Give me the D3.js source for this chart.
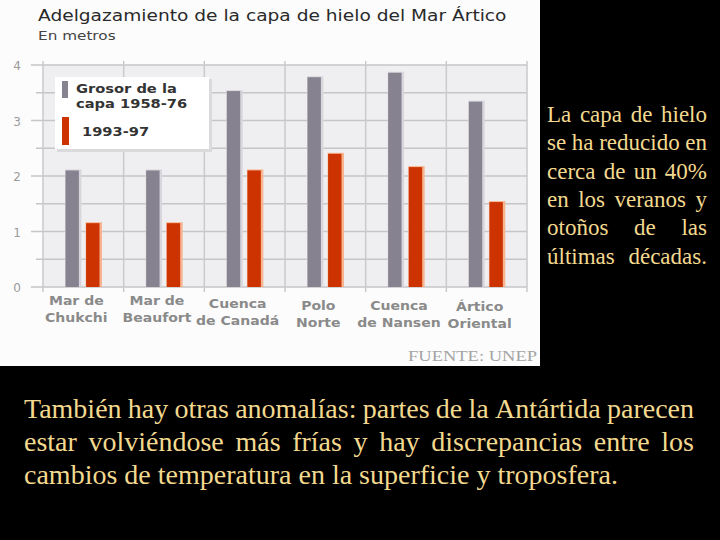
<!DOCTYPE html>
<html>
<head>
<meta charset="utf-8">
<script src="https://cdn.jsdelivr.net/npm/d3@7"></script>
<style>
  body { margin: 0; background: #000; }
  svg { display: block; }
</style>
</head>
<body>
<script>
// data (metres)
let categories = ["Mar de Chukchi", "Mar de Beaufort", "Cuenca de Canadá", "Polo Norte", "Cuenca de Nansen", "Ártico Oriental"]
let catLines = [["Mar de", "Chukchi"], ["Mar de", "Beaufort"], ["Cuenca", "de Canadá"], ["Polo", "Norte"], ["Cuenca", "de Nansen"], ["Ártico", "Oriental"]]
let series = ["1958-76", "1993-97"]
let grosorAntes = [2.1, 2.1, 3.53, 3.78, 3.86, 3.34]
let grosorDespues = [1.15, 1.15, 2.1, 2.4, 2.16, 1.53]
let yTicks = [0, 1, 2, 3, 4]
let legendLabels = [["Grosor de la", "capa 1958-76"], ["1993-97"]]

let sideText = ["La capa de hielo", "se ha reducido en", "cerca de un 40%", "en los veranos y", "otoños de las", "últimas décadas."]
let bottomText = ["También hay otras anomalías: partes de la Antártida parecen", "estar volviéndose más frías y hay discrepancias entre los", "cambios de temperatura en la superficie y troposfera."]

let w = 720
let h = 540
let stretch = 1.22   // the chart picture is wider than its fonts
let labelDrop = [0, 0, 3, 5, 5, 6]   // category labels sit a little lower toward the right
let colors = {"1958-76": "#86828f", "1993-97": "#cc3300"}
let glow = {"1958-76": "#d8d6dc", "1993-97": "#f7b48f"}
let gold = "#f3d98f"

let svg = d3.select("body").append("svg")
  .attr("width", w)
  .attr("height", h)

svg.append("rect").attr("width", w).attr("height", h).attr("fill", "#000")

// widen a chart text to match the stretched picture
let widen = (sel, k) => {
  sel.each(function(){
    let len = this.getComputedTextLength()
    d3.select(this).attr("textLength", len * (k || stretch)).attr("lengthAdjust", "spacingAndGlyphs")
  })
}

// chart panel (the picture)
svg.append("rect")
  .attr("x", 0).attr("y", 0)
  .attr("width", 540).attr("height", 366)
  .attr("fill", "#fcfcfc")

let xScale = d3.scaleBand().domain(categories).range([43, 527])
let subScale = d3.scaleBand().domain(series).range([22.5, 56.5]).paddingInner(0.35)
let yScale = d3.scaleLinear().domain([0, 4]).range([287, 65])

svg.append("rect")
  .attr("x", 43).attr("y", yScale(4))
  .attr("width", 484).attr("height", yScale(0) - yScale(4))
  .attr("fill", "#efeff1")

// horizontal grid every half metre
let gridVals = d3.range(0, 4.01, 0.5)
svg.append("g").selectAll("line")
  .data(gridVals)
  .enter()
  .append("line")
  .attr("x1", (d) => Number.isInteger(d) ? 31 : 36)
  .attr("x2", 527)
  .attr("y1", (d) => yScale(d))
  .attr("y2", (d) => yScale(d))
  .attr("stroke", "#c6c6c8")
  .attr("stroke-width", 1.5)

// vertical grid at category boundaries
let bounds = categories.map((c) => xScale(c)).concat([527])
svg.append("g").selectAll("line")
  .data(bounds)
  .enter()
  .append("line")
  .attr("x1", (d) => d).attr("x2", (d) => d)
  .attr("y1", yScale(4) - 4)
  .attr("y2", yScale(0) + 5)
  .attr("stroke", "#cacacc")
  .attr("stroke-width", 1.5)

// y axis labels
svg.append("g").selectAll("text")
  .data(yTicks)
  .enter()
  .append("text")
  .text((d) => d)
  .attr("x", 21)
  .attr("y", (d) => yScale(d) + 5)
  .attr("text-anchor", "end")
  .attr("font-family", "DejaVu Sans")
  .attr("font-size", 12)
  .attr("fill", "#9a9a9a")

// bars
let rows = []
categories.forEach((c, i) => {
  rows.push({cat: c, s: series[0], v: grosorAntes[i]})
  rows.push({cat: c, s: series[1], v: grosorDespues[i]})
})

let bars = svg.append("g")
bars.selectAll("rect.glow")
  .data(rows)
  .enter()
  .append("rect")
  .attr("class", "glow")
  .attr("x", (d) => xScale(d.cat) + subScale(d.s) - 0.5)
  .attr("y", (d) => yScale(d.v) - 1)
  .attr("width", subScale.bandwidth() + 3)
  .attr("height", (d) => yScale(0) - yScale(d.v) + 1)
  .attr("fill", (d) => glow[d.s])

bars.selectAll("rect.bar")
  .data(rows)
  .enter()
  .append("rect")
  .attr("class", "bar")
  .attr("x", (d) => xScale(d.cat) + subScale(d.s))
  .attr("y", (d) => yScale(d.v))
  .attr("width", subScale.bandwidth())
  .attr("height", (d) => yScale(0) - yScale(d.v))
  .attr("fill", (d) => colors[d.s])

// x labels, two lines each
let labelRows = []
categories.forEach((c, i) => catLines[i].forEach((t, j) => labelRows.push({cat: c, t: t, j: j, i: i})))
svg.append("g").selectAll("text")
  .data(labelRows)
  .enter()
  .append("text")
  .text((d) => d.t)
  .attr("x", (d) => xScale(d.cat) + xScale.bandwidth() / 2 - 7)
  .attr("y", (d) => 305 + d.j * 17 + labelDrop[d.i])
  .attr("text-anchor", "middle")
  .attr("font-family", "DejaVu Sans")
  .attr("font-weight", "bold")
  .attr("font-size", 11.5)
  .attr("fill", "#8a8a8a")
  .call(widen)

// title
svg.append("text")
  .text("Adelgazamiento de la capa de hielo del Mar Ártico")
  .attr("x", 38).attr("y", 21)
  .attr("font-family", "DejaVu Sans")
  .attr("font-size", 15)
  .attr("fill", "#2a2a2a")
  .call(widen, 1.24)

svg.append("text")
  .text("En metros")
  .attr("x", 38).attr("y", 40)
  .attr("font-family", "DejaVu Sans")
  .attr("font-size", 12.5)
  .attr("fill", "#444")
  .call(widen)

// legend
let lg = svg.append("g")
lg.append("rect")
  .attr("x", 57).attr("y", 79).attr("width", 155).attr("height", 73)
  .attr("fill", "#dadadc")
lg.append("rect")
  .attr("x", 55).attr("y", 77).attr("width", 154).attr("height", 72)
  .attr("fill", "#fff")

lg.append("rect").attr("x", 62).attr("y", 81).attr("width", 6).attr("height", 17).attr("fill", colors[series[0]])
lg.append("rect").attr("x", 62).attr("y", 117).attr("width", 7).attr("height", 28).attr("fill", colors[series[1]])

lg.selectAll("text.l1")
  .data(legendLabels[0])
  .enter()
  .append("text")
  .attr("class", "l1")
  .text((d) => d)
  .attr("x", 76)
  .attr("y", (d, i) => 93 + i * 15)
  .attr("font-family", "DejaVu Sans")
  .attr("font-weight", "bold")
  .attr("font-size", 12)
  .attr("fill", "#333")
  .call(widen)

lg.append("text")
  .text(legendLabels[1][0])
  .attr("x", 82).attr("y", 136)
  .attr("font-family", "DejaVu Sans")
  .attr("font-weight", "bold")
  .attr("font-size", 12)
  .attr("fill", "#333")
  .call(widen)

// source
svg.append("text")
  .text("FUENTE: UNEP")
  .attr("x", 408).attr("y", 361)
  .attr("font-family", "Liberation Serif")
  .attr("font-size", 15)
  .attr("fill", "#a4a4a4")
  .attr("textLength", 129)
  .attr("lengthAdjust", "spacingAndGlyphs")

// justified lines: spread the words across the width
let justify = (g, lines, x0, width, y0, step, size, lastNatural) => {
  lines.forEach((line, i) => {
    let words = line.split(" ")
    let t = g.selectAll("text.w" + i)
      .data(words)
      .enter()
      .append("text")
      .attr("class", "w" + i)
      .text((d) => d)
      .attr("y", y0 + i * step)
      .attr("font-family", "Liberation Serif")
      .attr("font-size", size)
      .attr("fill", gold)
    let lens = []
    t.each(function(){ lens.push(this.getComputedTextLength()) })
    let total = d3.sum(lens)
    let gap = size * 0.25
    if (!(lastNatural && i === lines.length - 1) && words.length > 1) {
      gap = (width - total) / (words.length - 1)
    }
    let x = x0
    t.attr("x", (d, j) => {
      let px = x
      x += lens[j] + gap
      return px
    })
  })
}

justify(svg.append("g"), sideText, 547, 160, 122, 28.3, 23, false)
justify(svg.append("g"), bottomText, 24, 670, 418, 33, 28, true)
</script>
</body>
</html>
